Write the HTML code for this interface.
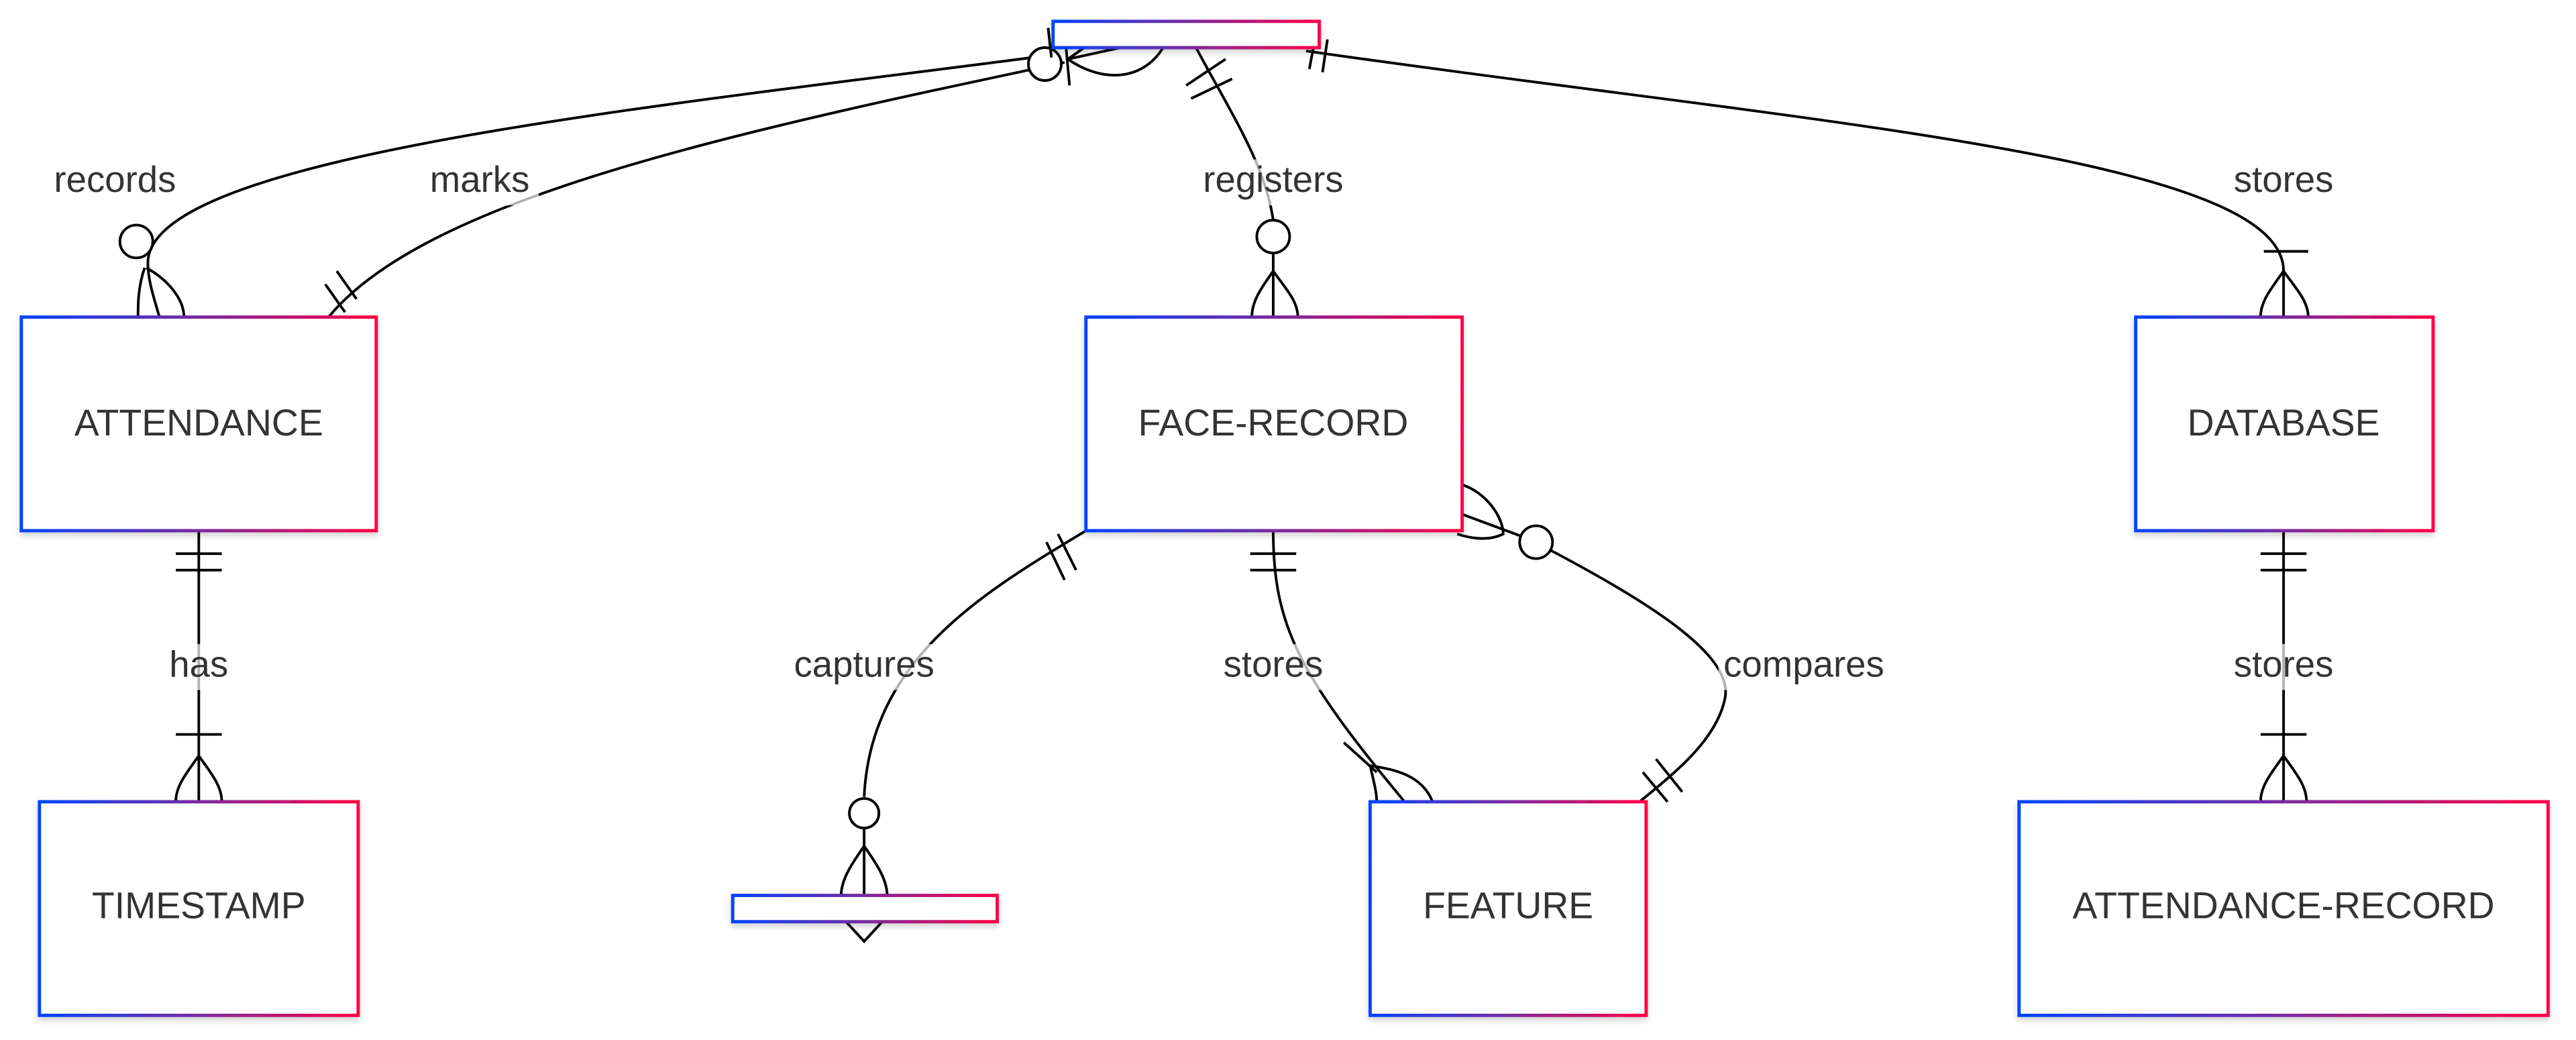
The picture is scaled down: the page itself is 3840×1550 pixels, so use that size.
<!DOCTYPE html>
<html><head><meta charset="utf-8"><style>
html,body{margin:0;padding:0;background:#fff;width:3840px;height:1550px;overflow:hidden}
svg{display:block}
text{font-family:"Liberation Sans",sans-serif;fill:#333;text-anchor:middle;dominant-baseline:middle}
</style></head><body>
<svg width="3840" height="1550" viewBox="0 0 1568 633" preserveAspectRatio="none" xmlns="http://www.w3.org/2000/svg">
<defs>
<linearGradient id="g" x1="0" y1="0" x2="1" y2="0"><stop offset="0" stop-color="#0044ff"/><stop offset="0.5" stop-color="#7a2aa0"/><stop offset="1" stop-color="#ff0044"/></linearGradient>
<filter id="s" x="-10%" y="-10%" width="120%" height="130%"><feDropShadow dx="0" dy="2" stdDeviation="2" flood-color="#000" flood-opacity="0.18"/></filter>
</defs>
<g fill="none" stroke="#000" stroke-width="1.6">
<path d="M636,34 C400,65 90,95 90,160 C90,172 95,185 97,193"/>
<circle cx="83" cy="147" r="10" fill="#fff"/>
<path d="M88,163 C84,175 84,185 84,193 M89,163 C102,170 112,182 112,193"/>
<path d="M648,38 C450,80 260,120 200,193"/>
<path d="M198,173 L210,190 M205,165 L217,182"/>
<circle cx="636" cy="39" r="10" fill="#fff"/>
<path d="M638,17 L640,35 M649,30 L651,52"/>
<path d="M650,36 C670,50 695,50 708,29 M650,36 L682,29 M650,36 L660,29"/>
<path d="M728,29 C750,70 770,100 775,134"/>
<circle cx="775" cy="144" r="10" fill="#fff"/>
<path d="M775,154 L775,193 M775,165 C768,175 762,183 762,193 M775,165 C782,175 790,183 790,193"/>
<path d="M722,52 L746,36 M725,60 L750,48"/>
<path d="M795,31 C1100,75 1390,95 1390,165 L1390,193"/>
<path d="M797,42 L800,26 M805,44 L808,24"/>
<path d="M1378,153 L1405,153 M1390,165 C1383,175 1376,183 1376,193 M1390,165 C1397,175 1405,183 1405,193"/>
<path d="M121,323 L121,488 M107,337 L135,337 M107,347 L135,347 M107,447 L135,447 M121,460 C114,470 107,478 107,488 M121,460 C128,470 135,478 135,488"/>
<path d="M661,323 C600,360 530,400 526,485"/>
<path d="M637,330 L648,353 M644,325 L655,347"/>
<circle cx="526" cy="495" r="9" fill="#fff"/>
<path d="M526,504 L526,545 M526,515 C519,525 512,535 512,545 M526,515 C533,525 540,535 540,545 M515,561 L526,573 L537,561"/>
<path d="M775,323 C775,380 790,410 855,488"/>
<path d="M761,337 L789,337 M761,347 L789,347 M818,452 L838,470"/>
<path d="M834,466 C845,468 865,470 872,488 M834,466 C836,475 838,482 838,488"/>
<path d="M890,313 L925,326"/>
<circle cx="935" cy="330" r="10" fill="#fff"/>
<path d="M944,335 C1010,370 1055,400 1050,425 C1045,450 1020,470 998,488"/>
<path d="M1000,470 L1015,488 M1008,462 L1024,482"/>
<path d="M890,295 C905,300 915,315 915,325 C905,330 893,327 887,325"/>
<path d="M1390,323 L1390,488 M1376,337 L1404,337 M1376,347 L1404,347 M1376,447 L1404,447 M1390,460 C1383,470 1376,478 1376,488 M1390,460 C1397,470 1404,478 1404,488"/>
</g>
<g fill="#fff" stroke="url(#g)" stroke-width="2" filter="url(#s)">
<rect x="641" y="13" width="162" height="16"/>
<rect x="13" y="193" width="216" height="130"/>
<rect x="661" y="193" width="229" height="130"/>
<rect x="1300" y="193" width="181" height="130"/>
<rect x="24" y="488" width="194" height="130"/>
<rect x="446" y="545" width="161" height="16"/>
<rect x="834" y="488" width="168" height="130"/>
<rect x="1229" y="488" width="322" height="130"/>
</g>
<g font-size="22.6">
<text x="121" y="259">ATTENDANCE</text>
<text x="775" y="259">FACE-RECORD</text>
<text x="1390" y="259">DATABASE</text>
<text x="121" y="553">TIMESTAMP</text>
<text x="918" y="553">FEATURE</text>
<text x="1390" y="553">ATTENDANCE-RECORD</text>
</g>
<g font-size="22.3">
<rect x="26" y="97" width="88" height="28" fill="#fff"/><text x="70" y="111">records</text>
<rect x="256" y="97" width="72" height="28" fill="#fff" opacity="0.7"/><text x="292" y="111">marks</text>
<rect x="728" y="97" width="94" height="28" fill="#fff" opacity="0.7"/><text x="775" y="111">registers</text>
<text x="1390" y="111">stores</text>
<rect x="98" y="392" width="46" height="28" fill="#fff" opacity="0.7"/><text x="121" y="406">has</text>
<rect x="480" y="392" width="92" height="28" fill="#fff" opacity="0.7"/><text x="526" y="406">captures</text>
<rect x="742" y="392" width="66" height="28" fill="#fff" opacity="0.7"/><text x="775" y="406">stores</text>
<rect x="1046" y="392" width="104" height="28" fill="#fff" opacity="0.7"/><text x="1098" y="406">compares</text>
<rect x="1357" y="392" width="66" height="28" fill="#fff" opacity="0.7"/><text x="1390" y="406">stores</text>
</g>
</svg>
</body></html>
